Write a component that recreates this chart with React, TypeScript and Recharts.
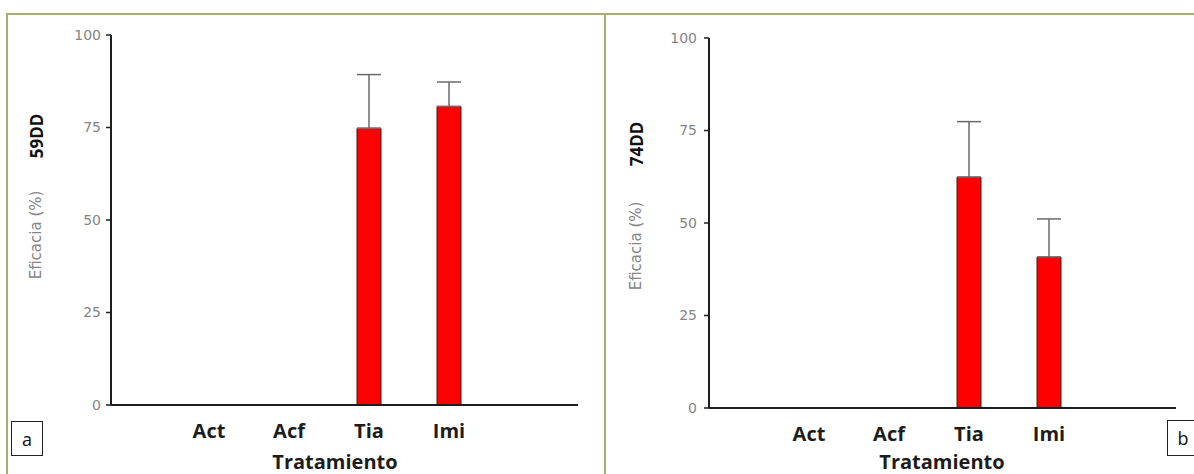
import React from "react";
import { BarChart, Bar, XAxis, YAxis, ErrorBar } from "recharts";

// ---- data ----
const categories = ["Act", "Acf", "Tia", "Imi"];
const efficacy59DD: (number | null)[] = [null, null, 74.8, 80.7];
const error59DD: (number | null)[] = [null, null, 14.5, 6.6];
const efficacy74DD: (number | null)[] = [null, null, 62.4, 40.8];
const error74DD: (number | null)[] = [null, null, 15.0, 10.3];
const yTicks = [0, 25, 50, 75, 100];
const xTickMarks = [1, 2, 3, 4, 5];
const yTitle = "Eficacia (%)";
const xTitle = "Tratamiento";

const buildRows = (values: (number | null)[], errors: (number | null)[]) =>
  categories.map((name, i) => ({
    name,
    value: values[i],
    err: errors[i] == null ? null : [0, errors[i] as number],
  }));

const rows59 = buildRows(efficacy59DD, error59DD);
const rows74 = buildRows(efficacy74DD, error74DD);

const FRAME = "#a7ae6e";
const AXIS = "#1e1e1e";

type PanelProps = {
  rows: any[];
  left: number;
  width: number;
  margin: { top: number; right: number; bottom: number; left: number };
  catPadding: { left: number; right: number };
  tag: string;
  titleX: number;
  effY: number;
  ddY: number;
  xTitleX: number;
  tickMargin: number;
};

function Panel(p: PanelProps) {
  return (
    <div style={{ position: "absolute", left: p.left, top: 0, width: p.width, height: 474 }}>
      <BarChart width={p.width} height={474} data={p.rows} margin={p.margin}>
        <XAxis
          xAxisId="a_marks"
          type="number"
          domain={[0, 5]}
          ticks={xTickMarks}
          tick={false}
          tickSize={4}
          height={1}
          axisLine={{ stroke: AXIS, strokeWidth: 2 }}
          tickLine={{ stroke: AXIS, strokeWidth: 1.5 }}
        />
        <XAxis
          xAxisId="b_cat"
          dataKey="name"
          type="category"
          height={40}
          padding={p.catPadding}
          axisLine={false}
          tickLine={false}
          tickSize={0}
          tickMargin={18}
          interval={0}
          tick={{ fill: "#1c1c1c", fontSize: 20, fontWeight: 700, fontFamily: "Open Sans" }}
          label={{
            content: () => (
              <text
                x={p.xTitleX}
                y={469}
                textAnchor="middle"
                fill="#1c1c1c"
                fontSize={20}
                fontWeight={700}
                fontFamily="Open Sans"
              >
                {xTitle}
              </text>
            ),
          }}
        />
        <YAxis
          type="number"
          domain={[0, 100]}
          ticks={yTicks}
          width={60}
          tickSize={5}
          tickMargin={p.tickMargin}
          axisLine={{ stroke: AXIS, strokeWidth: 2 }}
          tickLine={{ stroke: AXIS, strokeWidth: 1.5 }}
          tick={{ fill: "#858585", fontSize: 14, fontFamily: "DejaVu Sans" }}
          label={{
            content: () => (
              <g>
                <text
                  transform={`rotate(-90, ${p.titleX}, ${p.effY})`}
                  x={p.titleX}
                  y={p.effY}
                  textAnchor="middle"
                  fill="#858585"
                  fontSize={15}
                  fontFamily="DejaVu Sans"
                >
                  {yTitle}
                </text>
                <text
                  transform={`rotate(-90, ${p.titleX + 2}, ${p.ddY})`}
                  x={p.titleX + 2}
                  y={p.ddY}
                  textAnchor="middle"
                  fill="#111"
                  fontSize={17}
                  fontWeight={700}
                  fontFamily="Open Sans"
                >
                  {p.tag}
                </text>
              </g>
            ),
          }}
        />
        <Bar
          xAxisId="b_cat"
          dataKey="value"
          barSize={24}
          fill="#ff0000"
          stroke="#3a1c1c"
          strokeWidth={1}
          isAnimationActive={false}
        >
          <ErrorBar dataKey="err" width={12} stroke="#6a6a6a" strokeWidth={1.5} direction="y" />
        </Bar>
      </BarChart>
    </div>
  );
}

const boxStyle: React.CSSProperties = {
  position: "absolute",
  border: "1px solid #222",
  background: "#fff",
  fontFamily: "Open Sans",
  fontSize: 18,
  color: "#111",
  display: "flex",
  alignItems: "center",
  justifyContent: "center",
  boxSizing: "border-box",
};

export default function App() {
  return (
    <div
      style={{
        position: "absolute",
        left: 0,
        top: 0,
        width: 1194,
        height: 474,
        overflow: "hidden",
        background: "#ffffff",
      }}
    >
      <div
        style={{
          position: "absolute",
          left: 6,
          top: 13,
          width: 1188,
          height: 470,
          borderTop: `2px solid ${FRAME}`,
          borderLeft: `2px solid ${FRAME}`,
          boxSizing: "border-box",
        }}
      />
      <div
        style={{
          position: "absolute",
          left: 604,
          top: 13,
          width: 2,
          height: 470,
          background: FRAME,
        }}
      />
      <Panel
        rows={rows59}
        left={0}
        width={604}
        margin={{ top: 35, right: 26, bottom: 28, left: 51 }}
        catPadding={{ left: 58, right: 89 }}
        tag="59DD"
        titleX={41}
        effY={235}
        ddY={136}
        xTitleX={335}
        tickMargin={5}
      />
      <Panel
        rows={rows74}
        left={605}
        width={589}
        margin={{ top: 38, right: 18, bottom: 25, left: 44 }}
        catPadding={{ left: 60, right: 87 }}
        tag="74DD"
        titleX={36}
        effY={246}
        ddY={144}
        xTitleX={337}
        tickMargin={7}
      />
      <div style={{ ...boxStyle, left: 11, top: 421, width: 32, height: 35 }}>a</div>
      <div style={{ ...boxStyle, left: 1167, top: 420, width: 32, height: 36 }}>b</div>
    </div>
  );
}
